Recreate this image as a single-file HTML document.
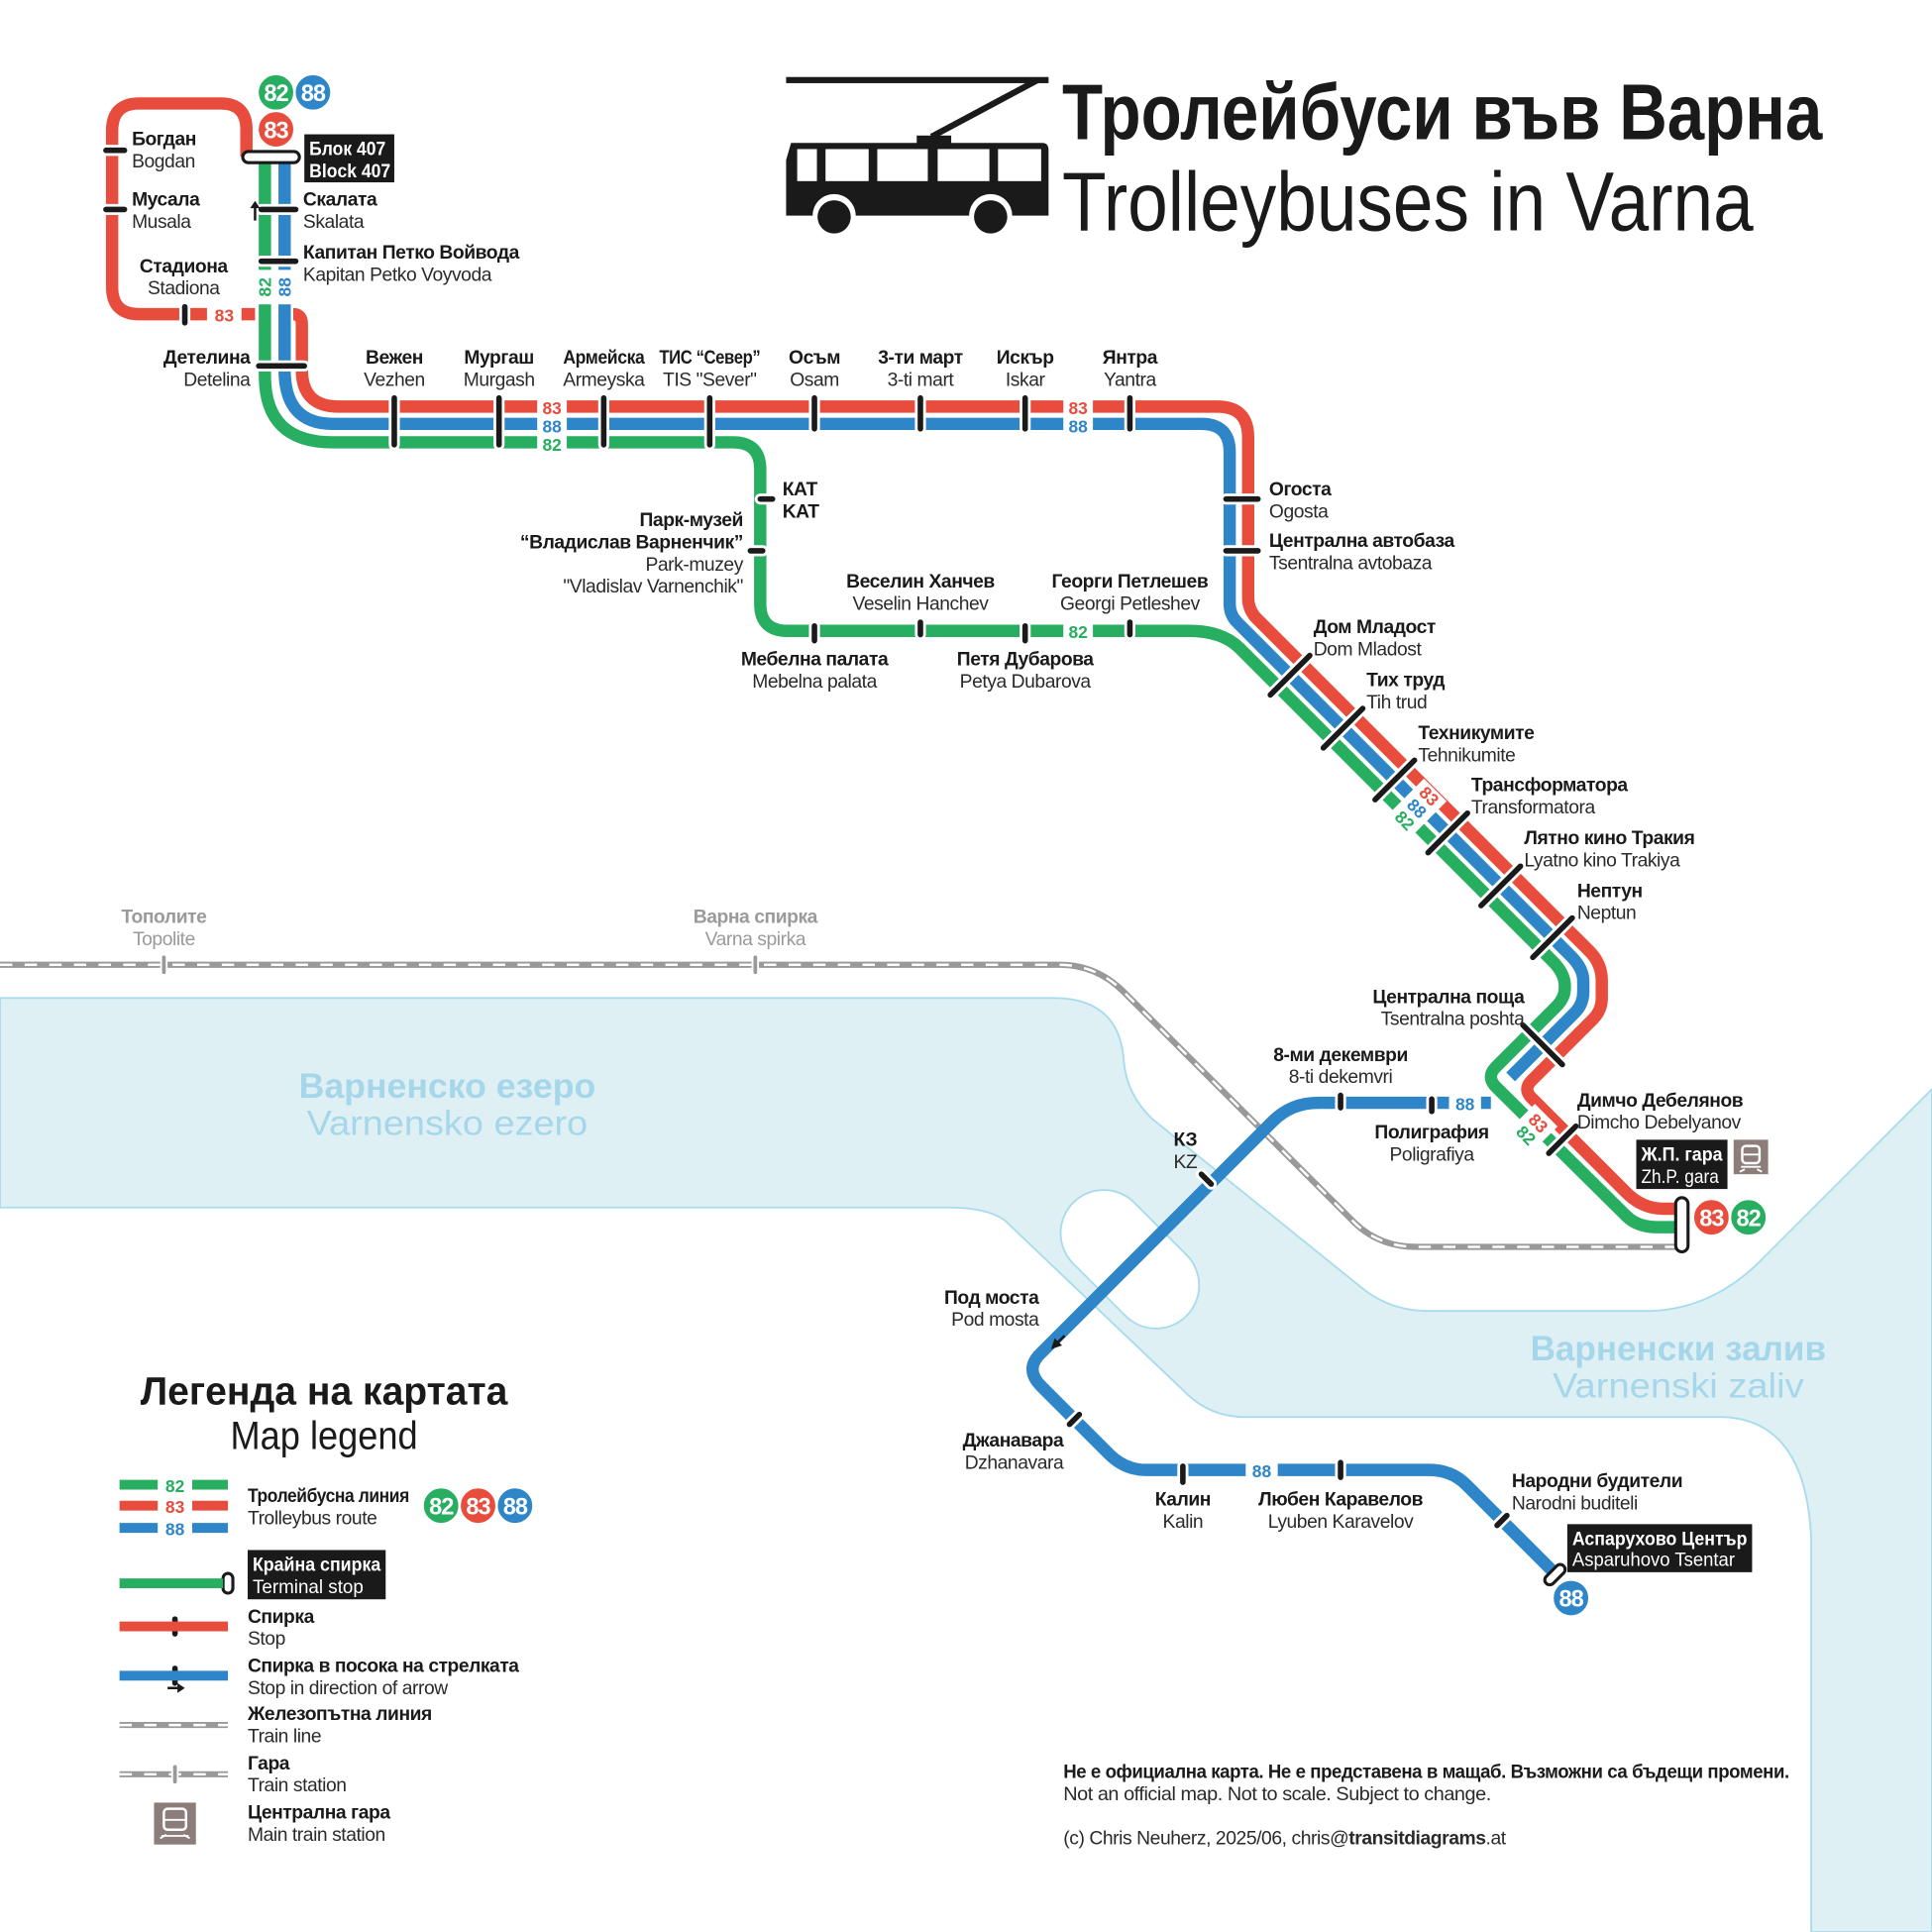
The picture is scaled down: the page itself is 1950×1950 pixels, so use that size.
<!DOCTYPE html>
<html><head><meta charset="utf-8"><style>
html,body{margin:0;padding:0;background:#fff}
svg{display:block}
text{font-family:"Liberation Sans Narrow","Liberation Sans","Noto Sans CJK SC",sans-serif}
.b{font-weight:bold;fill:#1a1a1a;font-size:15.5px;letter-spacing:-0.35px}
.r{fill:#2a2a2a;font-size:15.5px;letter-spacing:-0.35px}
.g{fill:#9a9a9a;font-size:15.5px;letter-spacing:-0.35px}
.gb{fill:#9a9a9a;font-size:15.5px;font-weight:bold;letter-spacing:-0.35px}
.w{fill:#fff;font-size:15.5px}
.wb{fill:#fff;font-size:15.5px;font-weight:bold}
.m{text-anchor:middle}
.e{text-anchor:end}
.lr{fill:#e84c3d;font-weight:bold;font-size:14px;text-anchor:middle}
.lb{fill:#2e86c8;font-weight:bold;font-size:14px;text-anchor:middle}
.lg{fill:#27ae60;font-weight:bold;font-size:14px;text-anchor:middle}
.bt{fill:#fff;font-weight:bold;font-size:19px;text-anchor:middle;letter-spacing:-0.8px}
.wl{fill:#a6d6ea;font-size:28px;text-anchor:middle}
</style></head><body>
<svg width="1950" height="1950" viewBox="0 0 1568 1568" xmlns="http://www.w3.org/2000/svg">
<rect width="1568" height="1568" fill="#fff"/>
<!-- water -->
<path d="M0,810 L855,810 Q908,810 912,860 Q914,888 935,908 L1105,1045 Q1128,1064 1160,1064 L1340,1064 Q1392,1062 1432,1020 L1568,884 L1568,1568 L1470,1568 L1470,1250 Q1466,1150 1395,1150 L1010,1150 Q982,1150 962,1130 L815,990 Q800,980 770,980 L0,980 Z" fill="#dff0f4" stroke="#a8dcec" stroke-width="1.5"/>
<rect x="852" y="987" width="130" height="70" rx="35" transform="rotate(45 917 1022)" fill="#fff" stroke="#a8dcec" stroke-width="1.5"/>
<text class="wl" x="363" y="891" font-weight="bold" textLength="241" lengthAdjust="spacingAndGlyphs">Варненско езеро</text>
<text class="wl" x="363" y="921" textLength="228" lengthAdjust="spacingAndGlyphs">Varnensko ezero</text>
<text class="wl" x="1362" y="1104" font-weight="bold" textLength="240" lengthAdjust="spacingAndGlyphs">Варненски залив</text>
<text class="wl" x="1362" y="1134" textLength="204" lengthAdjust="spacingAndGlyphs">Varnenski zaliv</text>

<!-- railway -->
<path d="M0,783 L860,783 Q890,783 912,805 L1100,993 Q1120,1012 1150,1012 L1362,1012" fill="none" stroke="#999" stroke-width="5"/>
<path d="M0,783 L860,783 Q890,783 912,805 L1100,993 Q1120,1012 1150,1012 L1362,1012" fill="none" stroke="#fff" stroke-width="2" stroke-dasharray="10 10"/>
<path d="M133,777 V789 M613,777 V789" stroke="#fff" stroke-width="6" stroke-linecap="round"/>
<path d="M133,777 V789 M613,777 V789" stroke="#999" stroke-width="3" stroke-linecap="round"/>
<text class="gb m" x="133" y="749">Тополите</text><text class="g m" x="133" y="767">Topolite</text>
<text class="gb m" x="613" y="749">Варна спирка</text><text class="g m" x="613" y="767">Varna spirka</text>

<!-- lines -->
<g fill="none" stroke-width="10">
<path stroke="#e84c3d" d="M200,127 L200,105 Q200,84 179,84 L113,84 Q91,84 91,106 L91,233 Q91,255 113,255 L207,255"/>
<path stroke="#e84c3d" d="M238,255 Q245,255 245,263 L245,300 Q245,330 275,330 L988,330 Q1013,330 1013,355 L1013,485 Q1013,495 1020,502 L1290,772 Q1300,782 1300,796 L1300,810 Q1300,820 1293,827 L1243,877 Q1236,884 1243,891 L1320,968 Q1333,981 1350,981 L1365,981"/>
<path stroke="#2e86c8" d="M231,130 L231,300 Q231,344 270,344 L975,344 Q998,344 998,367 L998,490 Q998,499 1004,505 L1275,776 Q1285,786 1285,796 L1285,805 Q1285,815 1278,822 L1226,874"/>
<path stroke="#27ae60" d="M215,130 L215,305 Q215,359 270,359 L595,359 Q617,359 617,381 L617,490 Q617,512 639,512 L965,512 Q992,512 1006,526 L1260,780 Q1270,790 1270,800 L1270,802 Q1270,810 1263,817 L1214,866 Q1206,874 1214,882 L1320,987 Q1329,996 1345,996 L1365,996"/>
<path stroke="#2e86c8" d="M1210,895 L1070,895 Q1048,895 1033,910 L845,1098 Q831,1111 845,1125 L900,1180 Q913,1193 930,1193 L1160,1193 Q1178,1193 1190,1205 L1260,1275"/>
</g>

<!-- on-line labels -->
<g>
<rect x="168" y="248" width="28" height="15" fill="#fff"/><text class="lr" x="182" y="261">83</text>
<rect x="208" y="219" width="30" height="28" fill="#fff"/>
<text class="lg" transform="translate(220,233) rotate(-90)">82</text>
<text class="lb" transform="translate(236,233) rotate(-90)">88</text>
<rect x="436" y="323" width="24" height="43" fill="#fff"/>
<text class="lr" x="448" y="336">83</text><text class="lb" x="448" y="351">88</text><text class="lg" x="448" y="366">82</text>
<rect x="863" y="323" width="24" height="28" fill="#fff"/>
<text class="lr" x="875" y="336">83</text><text class="lb" x="875" y="351">88</text>
<rect x="863" y="505" width="24" height="15" fill="#fff"/><text class="lg" x="875" y="518">82</text>
<rect x="1176" y="888" width="26" height="15" fill="#fff"/><text class="lb" x="1189" y="901">88</text>
<rect x="1011" y="1186" width="26" height="15" fill="#fff"/><text class="lb" x="1024" y="1199">88</text>
<g transform="translate(1150,656) rotate(45)"><rect x="-13" y="-21" width="26" height="42" fill="#fff"/>
<text class="lr" x="0" y="-9">83</text><text class="lb" x="0" y="5">88</text><text class="lg" x="0" y="19">82</text></g>
<g transform="translate(1245,915) rotate(45)"><rect x="-13" y="-14" width="26" height="30" fill="#fff"/>
<text class="lr" x="0" y="0">83</text><text class="lg" x="0" y="14">82</text></g>
</g>

<!-- stop ticks -->
<path fill="none" stroke="#fff" stroke-width="9" stroke-linecap="round" d="M86,122 H101 M86,170 H101 M150,249 V262 M212,170 H240 M212,212 H240 M210,297 H247 M320,323 V361 M405,323 V361 M490,323 V361 M576,323 V361 M661,323 V348 M747,323 V348 M832,323 V348 M917,323 V348 M995,405 H1021 M995,447 H1021 M617,405 H627 M609,447 H619 M661,508 V520 M747,505 V515 M832,508 V520 M917,505 V515 M1031,564 L1063,532 M1074,607 L1106,575 M1116,649 L1148,617 M1159,692 L1191,660 M1202,735 L1234,703 M1244,777 L1276,745 M1236,832 L1268,864 M1257,936 L1279,914 M1088,889 V899 M1162,892 V902 M975,953 L983,961 M868,1156 L876,1148 M960,1190 V1203 M1088,1187 V1199 M1215,1238 L1223,1230 M142,1314 V1326 M142,1354 V1366"/>
<path fill="none" stroke="#1a1a1a" stroke-width="4.5" stroke-linecap="round" d="M86,122 H101 M86,170 H101 M150,249 V262 M212,170 H240 M212,212 H240 M210,297 H247 M320,323 V361 M405,323 V361 M490,323 V361 M576,323 V361 M661,323 V348 M747,323 V348 M832,323 V348 M917,323 V348 M995,405 H1021 M995,447 H1021 M617,405 H627 M609,447 H619 M661,508 V520 M747,505 V515 M832,508 V520 M917,505 V515 M1031,564 L1063,532 M1074,607 L1106,575 M1116,649 L1148,617 M1159,692 L1191,660 M1202,735 L1234,703 M1244,777 L1276,745 M1236,832 L1268,864 M1257,936 L1279,914 M1088,889 V899 M1162,892 V902 M975,953 L983,961 M868,1156 L876,1148 M960,1190 V1203 M1088,1187 V1199 M1215,1238 L1223,1230 M142,1314 V1326 M142,1354 V1366"/>
<!-- arrows -->
<path d="M207,179 V168" stroke="#1a1a1a" stroke-width="2"/><path d="M203,169 L207,163 L211,169 Z" fill="#1a1a1a"/>
<path d="M864,1084 L857,1091" stroke="#1a1a1a" stroke-width="2"/><path d="M853,1095 L856,1086 L862,1092 Z" fill="#1a1a1a"/>
<path d="M136,1370 H146" stroke="#1a1a1a" stroke-width="2"/><path d="M150,1370 L144,1366 L144,1374 Z" fill="#1a1a1a"/>

<!-- terminals -->
<g fill="#fff" stroke="#1a1a1a" stroke-width="2.5">
<rect x="197" y="123" width="46" height="9" rx="4.5"/>
<rect x="1360" y="972" width="10" height="44" rx="5"/>
<rect x="1258" y="1268" width="8" height="20" rx="4" transform="rotate(45 1262 1278)"/>
<rect x="181" y="1277" width="8" height="16" rx="4"/>
</g>

<!-- badges -->
<g stroke="#fff" stroke-width="2">
<circle cx="224" cy="75" r="15" fill="#27ae60"/><circle cx="254" cy="75" r="15" fill="#2e86c8"/>
<circle cx="224" cy="105" r="15" fill="#e84c3d"/>
<circle cx="1389" cy="988" r="15" fill="#e84c3d"/><circle cx="1419" cy="988" r="15" fill="#27ae60"/>
<circle cx="1275" cy="1297" r="15" fill="#2e86c8"/>
<circle cx="358" cy="1222" r="15" fill="#27ae60"/><circle cx="388" cy="1222" r="15" fill="#e84c3d"/><circle cx="418" cy="1222" r="15" fill="#2e86c8"/>
</g>
<text class="bt" x="224" y="82">82</text><text class="bt" x="254" y="82">88</text><text class="bt" x="224" y="112">83</text>
<text class="bt" x="1389" y="995">83</text><text class="bt" x="1419" y="995">82</text><text class="bt" x="1275" y="1304">88</text>
<text class="bt" x="358" y="1229">82</text><text class="bt" x="388" y="1229">83</text><text class="bt" x="418" y="1229">88</text>

<!-- black boxes -->
<rect x="247" y="109" width="73" height="39" fill="#1a1a1a"/>
<text class="wb" x="251" y="126" textLength="62" lengthAdjust="spacingAndGlyphs">Блок 407</text><text class="wb" x="251" y="144" textLength="66" lengthAdjust="spacingAndGlyphs">Block 407</text>
<rect x="1328" y="925" width="74" height="40" fill="#1a1a1a"/>
<text class="wb" x="1332" y="942" textLength="66" lengthAdjust="spacingAndGlyphs">Ж.П. гара</text><text class="w" x="1332" y="960" textLength="63" lengthAdjust="spacingAndGlyphs">Zh.P. gara</text>
<rect x="1272" y="1237" width="150" height="39" fill="#1a1a1a"/>
<text class="wb" x="1276" y="1254" textLength="142" lengthAdjust="spacingAndGlyphs">Аспарухово Център</text><text class="w" x="1276" y="1271" textLength="132" lengthAdjust="spacingAndGlyphs">Asparuhovo Tsentar</text>
<rect x="201" y="1258" width="112" height="40" fill="#1a1a1a"/>
<text class="wb" x="205" y="1275" textLength="104" lengthAdjust="spacingAndGlyphs">Крайна спирка</text><text class="w" x="205" y="1293" textLength="90" lengthAdjust="spacingAndGlyphs">Terminal stop</text>

<!-- train icons -->
<g>
<rect x="1407" y="925" width="28" height="28" fill="#8c7c7a"/>
<rect x="1414" y="930" width="14" height="14" rx="3" fill="none" stroke="#fff" stroke-width="2"/>
<path d="M1415,937 H1427 M1416,949 L1412,951 M1426,949 L1430,951 M1413,947 H1429" stroke="#fff" stroke-width="1.5"/>
<rect x="125" y="1463" width="34" height="34" fill="#8c7c7a"/>
<rect x="133" y="1468" width="18" height="17" rx="3" fill="none" stroke="#fff" stroke-width="2"/>
<path d="M134,1477 H150 M135,1489 L130,1492 M149,1489 L154,1492 M131,1490 H153" stroke="#fff" stroke-width="1.5"/>
</g>

<!-- trolleybus -->
<g fill="#1a1a1a">
<rect x="638" y="62.5" width="213" height="5"/>
<path d="M842,65 L756,111" stroke="#1a1a1a" stroke-width="5"/>
<rect x="744" y="110" width="28" height="7"/>
<path d="M642,116 L846,116 Q851,116 851,122 L851,175 L638,175 L638,130 Z"/>
<g fill="#fff"><rect x="647" y="121" width="16" height="26"/><rect x="670" y="121" width="35" height="26"/><rect x="712" y="121" width="41" height="26"/><rect x="761" y="121" width="42" height="26"/><rect x="810" y="121" width="35" height="26"/>
<circle cx="677" cy="175" r="17.5"/><circle cx="804" cy="175" r="17.5"/></g>
<circle cx="677" cy="176" r="13.5"/><circle cx="804" cy="176" r="13.5"/>
</g>
<text x="862" y="113" font-weight="bold" font-size="64" fill="#1a1a1a" textLength="617" lengthAdjust="spacingAndGlyphs">Тролейбуси във Варна</text>
<text x="862" y="187" font-size="68" fill="#1a1a1a" textLength="561" lengthAdjust="spacingAndGlyphs">Trolleybuses in Varna</text>

<!-- stop labels -->
<text class="b" x="107" y="118">Богдан</text><text class="r" x="107" y="136">Bogdan</text>
<text class="b" x="107" y="167">Мусала</text><text class="r" x="107" y="185">Musala</text>
<text class="b m" x="149" y="221">Стадиона</text><text class="r m" x="149" y="239">Stadiona</text>
<text class="b" x="246" y="167">Скалата</text><text class="r" x="246" y="185">Skalata</text>
<text class="b" x="246" y="210">Капитан Петко Войвода</text><text class="r" x="246" y="228">Kapitan Petko Voyvoda</text>
<text class="b e" x="203" y="295">Детелина</text><text class="r e" x="203" y="313">Detelina</text>
<text class="b m" x="320" y="295">Вежен</text><text class="r m" x="320" y="313">Vezhen</text>
<text class="b m" x="405" y="295">Мургаш</text><text class="r m" x="405" y="313">Murgash</text>
<text class="b m" x="490" y="295" textLength="66" lengthAdjust="spacingAndGlyphs">Армейска</text><text class="r m" x="490" y="313">Armeyska</text>
<text class="b m" x="576" y="295" textLength="82" lengthAdjust="spacingAndGlyphs">ТИС “Север”</text><text class="r m" x="576" y="313">TIS "Sever"</text>
<text class="b m" x="661" y="295">Осъм</text><text class="r m" x="661" y="313">Osam</text>
<text class="b m" x="747" y="295">3-ти март</text><text class="r m" x="747" y="313">3-ti mart</text>
<text class="b m" x="832" y="295">Искър</text><text class="r m" x="832" y="313">Iskar</text>
<text class="b m" x="917" y="295">Янтра</text><text class="r m" x="917" y="313">Yantra</text>
<text class="b" x="1030" y="402">Огоста</text><text class="r" x="1030" y="420">Ogosta</text>
<text class="b" x="1030" y="444">Централна автобаза</text><text class="r" x="1030" y="462">Tsentralna avtobaza</text>
<text class="b" x="635" y="402">КАТ</text><text class="b" x="635" y="420">KAT</text>
<text class="b e" x="603" y="427">Парк-музей</text><text class="b e" x="603" y="445">“Владислав Варненчик”</text>
<text class="r e" x="603" y="463">Park-muzey</text><text class="r e" x="603" y="481">"Vladislav Varnenchik"</text>
<text class="b m" x="747" y="477">Веселин Ханчев</text><text class="r m" x="747" y="495">Veselin Hanchev</text>
<text class="b m" x="917" y="477">Георги Петлешев</text><text class="r m" x="917" y="495">Georgi Petleshev</text>
<text class="b m" x="661" y="540">Мебелна палата</text><text class="r m" x="661" y="558">Mebelna palata</text>
<text class="b m" x="832" y="540">Петя Дубарова</text><text class="r m" x="832" y="558">Petya Dubarova</text>
<text class="b" x="1066" y="514">Дом Младост</text><text class="r" x="1066" y="532">Dom Mladost</text>
<text class="b" x="1109" y="557">Тих труд</text><text class="r" x="1109" y="575">Tih trud</text>
<text class="b" x="1151" y="600">Техникумите</text><text class="r" x="1151" y="618">Tehnikumite</text>
<text class="b" x="1194" y="642">Трансформатора</text><text class="r" x="1194" y="660">Transformatora</text>
<text class="b" x="1237" y="685">Лятно кино Тракия</text><text class="r" x="1237" y="703">Lyatno kino Trakiya</text>
<text class="b" x="1280" y="728">Нептун</text><text class="r" x="1280" y="746">Neptun</text>
<text class="b e" x="1237" y="814">Централна поща</text><text class="r e" x="1237" y="832">Tsentralna poshta</text>
<text class="b m" x="1088" y="861">8-ми декември</text><text class="r m" x="1088" y="879">8-ti dekemvri</text>
<text class="b m" x="1162" y="924">Полиграфия</text><text class="r m" x="1162" y="942">Poligrafiya</text>
<text class="b" x="1280" y="898">Димчо Дебелянов</text><text class="r" x="1280" y="916">Dimcho Debelyanov</text>
<text class="b m" x="962" y="930">КЗ</text><text class="r m" x="962" y="948">KZ</text>
<text class="b e" x="843" y="1058">Под моста</text><text class="r e" x="843" y="1076">Pod mosta</text>
<text class="b e" x="863" y="1174">Джанавара</text><text class="r e" x="863" y="1192">Dzhanavara</text>
<text class="b m" x="960" y="1222">Калин</text><text class="r m" x="960" y="1240">Kalin</text>
<text class="b m" x="1088" y="1222">Любен Каравелов</text><text class="r m" x="1088" y="1240">Lyuben Karavelov</text>
<text class="b" x="1227" y="1207">Народни будители</text><text class="r" x="1227" y="1225">Narodni buditeli</text>

<!-- legend -->
<text x="263" y="1140" class="m" font-weight="bold" font-size="32" fill="#1a1a1a" textLength="298" lengthAdjust="spacingAndGlyphs">Легенда на картата</text>
<text x="263" y="1176" class="m" font-size="32" fill="#1a1a1a" textLength="152" lengthAdjust="spacingAndGlyphs">Map legend</text>
<g stroke-width="8">
<path d="M97,1205 H185" stroke="#27ae60"/><path d="M97,1222 H185" stroke="#e84c3d"/><path d="M97,1240 H185" stroke="#2e86c8"/>
<path d="M97,1285 H181" stroke="#27ae60"/><path d="M97,1320 H185" stroke="#e84c3d"/><path d="M97,1360 H185" stroke="#2e86c8"/>
</g>
<rect x="128" y="1198" width="28" height="50" fill="#fff"/>
<text class="lg" x="142" y="1211">82</text><text class="lr" x="142" y="1228">83</text><text class="lb" x="142" y="1246">88</text>
<path d="M97,1400 H185 M97,1440 H185" stroke="#999" stroke-width="5"/>
<path d="M97,1400 H185 M97,1440 H185" stroke="#fff" stroke-width="2" stroke-dasharray="10 10"/>
<path d="M142,1434 V1446" stroke="#fff" stroke-width="6" stroke-linecap="round"/><path d="M142,1434 V1446" stroke="#999" stroke-width="3" stroke-linecap="round"/>
<text class="b" x="201" y="1219" textLength="131" lengthAdjust="spacingAndGlyphs">Тролейбусна линия</text><text class="r" x="201" y="1237">Trolleybus route</text>
<text class="b" x="201" y="1317">Спирка</text><text class="r" x="201" y="1335">Stop</text>
<text class="b" x="201" y="1357" textLength="220" lengthAdjust="spacingAndGlyphs">Спирка в посока на стрелката</text><text class="r" x="201" y="1375">Stop in direction of arrow</text>
<text class="b" x="201" y="1396">Железопътна линия</text><text class="r" x="201" y="1414">Train line</text>
<text class="b" x="201" y="1436">Гара</text><text class="r" x="201" y="1454">Train station</text>
<text class="b" x="201" y="1476">Централна гара</text><text class="r" x="201" y="1494">Main train station</text>

<!-- footer -->
<text class="b" x="863" y="1443" textLength="589" lengthAdjust="spacingAndGlyphs">Не е официална карта. Не е представена в мащаб. Възможни са бъдещи промени.</text>
<text class="r" x="863" y="1461" textLength="347" lengthAdjust="spacingAndGlyphs">Not an official map. Not to scale. Subject to change.</text>
<text class="r" x="863" y="1497" textLength="359" lengthAdjust="spacingAndGlyphs">(c) Chris Neuherz, 2025/06, chris@<tspan font-weight="bold">transitdiagrams</tspan>.at</text>
</svg>
</body></html>
